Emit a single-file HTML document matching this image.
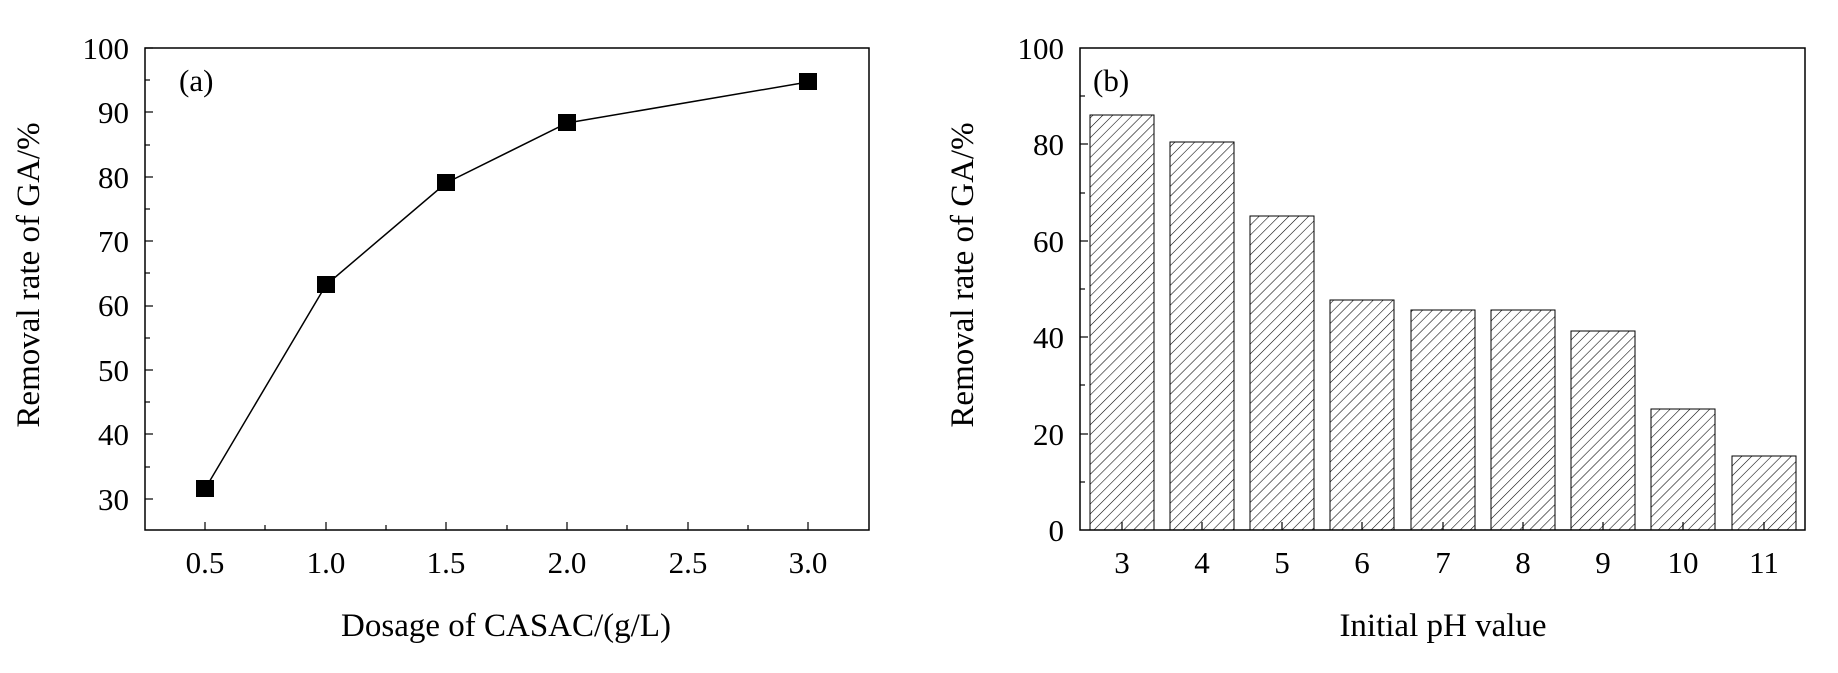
<!DOCTYPE html>
<html><head><style>body{margin:0;background:#fff}svg{display:block}text{font-family:"Liberation Serif",serif;fill:#000}</style></head>
<body>
<svg width="1838" height="673" xmlns="http://www.w3.org/2000/svg">
<defs>
<pattern id="h" patternUnits="userSpaceOnUse" width="7" height="7" patternTransform="rotate(45)">
<line x1="0" y1="0" x2="0" y2="7" stroke="#000" stroke-width="1.1"/>
</pattern>
</defs>
<!-- Chart A -->
<g>
<rect x="145" y="48" width="724" height="482" fill="none" stroke="#000" stroke-width="1.5"/>
<g stroke="#000" stroke-width="1.2">
<line x1="145" y1="48" x2="153" y2="48"/><line x1="145" y1="80" x2="150" y2="80"/>
<line x1="145" y1="112" x2="153" y2="112"/><line x1="145" y1="145" x2="150" y2="145"/>
<line x1="145" y1="177" x2="153" y2="177"/><line x1="145" y1="209" x2="150" y2="209"/>
<line x1="145" y1="241" x2="153" y2="241"/><line x1="145" y1="273" x2="150" y2="273"/>
<line x1="145" y1="306" x2="153" y2="306"/><line x1="145" y1="338" x2="150" y2="338"/>
<line x1="145" y1="370" x2="153" y2="370"/><line x1="145" y1="402" x2="150" y2="402"/>
<line x1="145" y1="434" x2="153" y2="434"/><line x1="145" y1="467" x2="150" y2="467"/>
<line x1="145" y1="499" x2="153" y2="499"/>
<line x1="205" y1="530" x2="205" y2="522"/><line x1="265" y1="530" x2="265" y2="525"/>
<line x1="326" y1="530" x2="326" y2="522"/><line x1="386" y1="530" x2="386" y2="525"/>
<line x1="446" y1="530" x2="446" y2="522"/><line x1="507" y1="530" x2="507" y2="525"/>
<line x1="567" y1="530" x2="567" y2="522"/><line x1="627" y1="530" x2="627" y2="525"/>
<line x1="688" y1="530" x2="688" y2="522"/><line x1="748" y1="530" x2="748" y2="525"/>
<line x1="808" y1="530" x2="808" y2="522"/>
</g>
<g font-size="31" text-anchor="end">
<text x="129" y="59">100</text><text x="129" y="123">90</text><text x="129" y="188">80</text>
<text x="129" y="252">70</text><text x="129" y="316">60</text><text x="129" y="381">50</text>
<text x="129" y="445">40</text><text x="129" y="510">30</text>
</g>
<g font-size="31" text-anchor="middle">
<text x="205" y="573">0.5</text><text x="326" y="573">1.0</text><text x="446" y="573">1.5</text>
<text x="567" y="573">2.0</text><text x="688" y="573">2.5</text><text x="808" y="573">3.0</text>
</g>
<g font-size="33" text-anchor="middle">
<text x="506" y="636">Dosage of CASAC/(g/L)</text>
<text transform="translate(39,275) rotate(-90)">Removal rate of GA/%</text>
</g>
<text x="179" y="91" font-size="31">(a)</text>
<polyline points="205,489 326,285 446,183 567,123 808,82" fill="none" stroke="#000" stroke-width="1.5"/>
<g fill="#000">
<rect x="196" y="480" width="18" height="17"/><rect x="317" y="276" width="18" height="17"/>
<rect x="437" y="174" width="18" height="17"/><rect x="558" y="114" width="18" height="17"/>
<rect x="799" y="73" width="18" height="17"/>
</g>
</g>
<!-- Chart B -->
<g>
<g stroke="#000" stroke-width="1" fill="url(#h)">
<rect x="1090" y="115" width="64" height="415"/>
<rect x="1170" y="142" width="64" height="388"/>
<rect x="1250" y="216" width="64" height="314"/>
<rect x="1330" y="300" width="64" height="230"/>
<rect x="1411" y="310" width="64" height="220"/>
<rect x="1491" y="310" width="64" height="220"/>
<rect x="1571" y="331" width="64" height="199"/>
<rect x="1651" y="409" width="64" height="121"/>
<rect x="1732" y="456" width="64" height="74"/>
</g>
<rect x="1080" y="48" width="725" height="482" fill="none" stroke="#000" stroke-width="1.5"/>
<g stroke="#000" stroke-width="1.2">
<line x1="1080" y1="96" x2="1085" y2="96"/><line x1="1080" y1="144" x2="1088" y2="144"/>
<line x1="1080" y1="193" x2="1085" y2="193"/><line x1="1080" y1="241" x2="1088" y2="241"/>
<line x1="1080" y1="289" x2="1085" y2="289"/><line x1="1080" y1="337" x2="1088" y2="337"/>
<line x1="1080" y1="385" x2="1085" y2="385"/><line x1="1080" y1="434" x2="1088" y2="434"/>
<line x1="1080" y1="482" x2="1085" y2="482"/>
<line x1="1122" y1="530" x2="1122" y2="522"/><line x1="1202" y1="530" x2="1202" y2="522"/>
<line x1="1282" y1="530" x2="1282" y2="522"/><line x1="1362" y1="530" x2="1362" y2="522"/>
<line x1="1443" y1="530" x2="1443" y2="522"/><line x1="1523" y1="530" x2="1523" y2="522"/>
<line x1="1603" y1="530" x2="1603" y2="522"/><line x1="1683" y1="530" x2="1683" y2="522"/>
<line x1="1764" y1="530" x2="1764" y2="522"/>
</g>
<g font-size="31" text-anchor="end">
<text x="1064" y="59">100</text><text x="1064" y="155">80</text><text x="1064" y="252">60</text>
<text x="1064" y="348">40</text><text x="1064" y="445">20</text><text x="1064" y="541">0</text>
</g>
<g font-size="31" text-anchor="middle">
<text x="1122" y="573">3</text><text x="1202" y="573">4</text><text x="1282" y="573">5</text>
<text x="1362" y="573">6</text><text x="1443" y="573">7</text><text x="1523" y="573">8</text>
<text x="1603" y="573">9</text><text x="1683" y="573">10</text><text x="1764" y="573">11</text>
</g>
<g font-size="33" text-anchor="middle">
<text x="1443" y="636">Initial pH value</text>
<text transform="translate(973,275) rotate(-90)">Removal rate of GA/%</text>
</g>
<text x="1093" y="91" font-size="31">(b)</text>
</g>
</svg>
</body></html>
